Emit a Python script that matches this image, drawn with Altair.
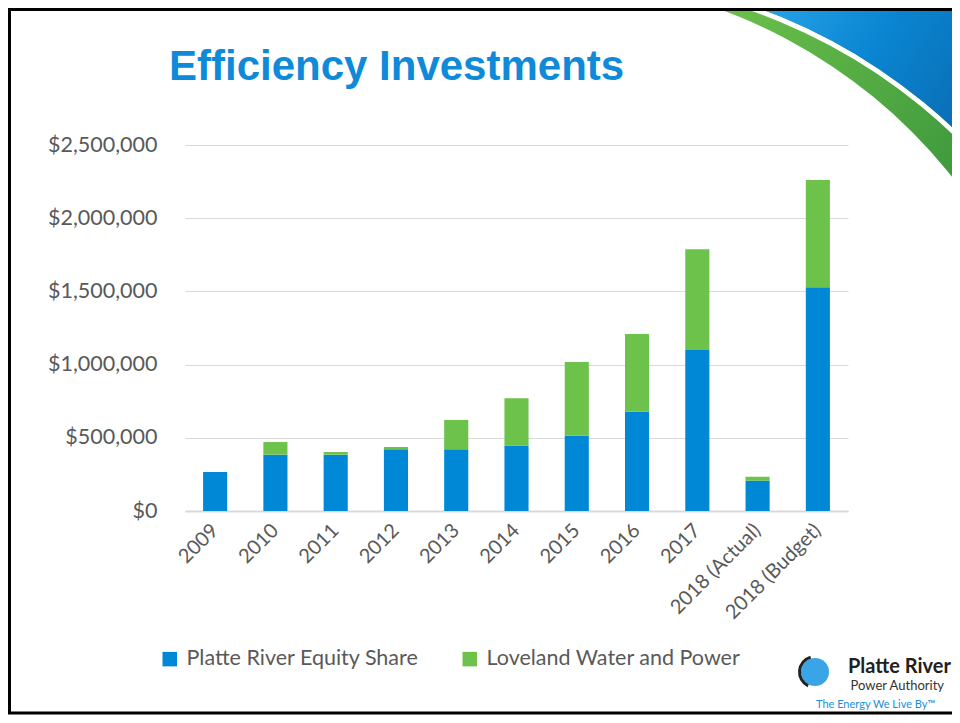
import altair as alt
import pandas as pd

categories = ["2009", "2010", "2011", "2012", "2013", "2014", "2015", "2016", "2017",
              "2018 (Actual)", "2018 (Budget)"]
platte = [266000, 385000, 385000, 421000, 421000, 446000, 514000, 678000, 1100000, 207000, 1528000]
loveland = [0, 86000, 18000, 16000, 201000, 324000, 504000, 531000, 688000, 27000, 733000]
series_names = ["Platte River Equity Share", "Loveland Water and Power"]
series_colors = ["#0088D6", "#6CC24A"]
y_ticks = [0, 500000, 1000000, 1500000, 2000000, 2500000]

rows = []
for c, p, l in zip(categories, platte, loveland):
    rows.append({"category": c, "series": series_names[0], "value": p, "ord": 0})
    rows.append({"category": c, "series": series_names[1], "value": l, "ord": 1})
df = pd.DataFrame(rows)
one = pd.DataFrame({"k": [0]})

W, H = 663, 366
PAD = {"left": 177, "top": 137, "right": 104, "bottom": 204}
LBL = "#595959"

bars = alt.Chart(df).mark_bar().encode(
    x=alt.X("category:N", sort=categories,
            scale=alt.Scale(paddingInner=0.6, paddingOuter=0.3),
            axis=alt.Axis(title=None, labelAngle=-45, labelAlign="right", labelBaseline="middle",
                          labelFont="Lato", labelFontSize=20, labelColor=LBL, ticks=False,
                          domainColor="#d9d9d9", domainWidth=2, labelPadding=16, grid=False)),
    y=alt.Y("value:Q", stack="zero", scale=alt.Scale(domain=[0, 2500000]),
            axis=alt.Axis(title=None, format="$,.0f", values=y_ticks, labelFont="Lato",
                          labelFontSize=21.5, labelColor=LBL, ticks=False, domain=False,
                          gridColor="#d9d9d9", gridWidth=1, labelPadding=28)),
    color=alt.Color("series:N", sort=series_names,
                    scale=alt.Scale(domain=series_names, range=series_colors),
                    legend=alt.Legend(orient="none", legendX=-26, legendY=503, direction="horizontal",
                                      title=None, symbolType="square", symbolSize=210,
                                      symbolStrokeWidth=0, labelFont="Lato", labelFontSize=21.5,
                                      labelColor=LBL, columnPadding=40, labelOffset=6, padding=0,
                                      labelLimit=0)),
    order=alt.Order("ord:Q", sort="ascending"),
)

# decorative swoosh (top right)
green_ring = alt.Chart(one).mark_arc(
    theta=0, theta2=1.5708, innerRadius=529, outerRadius=900,
    fill=alt.Gradient(gradient="linear", x1=0.2, y1=0.45, x2=0.46, y2=0.64,
                      stops=[alt.GradientStop(color="#6cc04a", offset=0),
                             alt.GradientStop(color="#3f9a3d", offset=1)])
).encode(x=alt.value(353), y=alt.value(361))
white_ring = alt.Chart(one).mark_arc(
    theta=0, theta2=1.5708, innerRadius=561, outerRadius=566, fill="white"
).encode(x=alt.value(380), y=alt.value(395))
blue_ring = alt.Chart(one).mark_arc(
    theta=0, theta2=1.5708, innerRadius=566, outerRadius=1000,
    fill=alt.Gradient(gradient="linear", x1=0.185, y1=0.47, x2=0.39, y2=0.6,
                      stops=[alt.GradientStop(color="#2aa6ec", offset=0),
                             alt.GradientStop(color="#0a86d2", offset=0.5),
                             alt.GradientStop(color="#0a6db5", offset=1)])
).encode(x=alt.value(380), y=alt.value(395))

border = alt.Chart(one).mark_rect(fillOpacity=0, stroke="black", strokeWidth=3).encode(
    x=alt.value(-175.5), y=alt.value(-135.5), x2=alt.value(820), y2=alt.value(568))

title = alt.Chart(one).mark_text(
    text="Efficiency Investments", font="Liberation Sans", fontWeight="bold", fontSize=42,
    color="#0E8AD8", align="left", baseline="alphabetic"
).encode(x=alt.value(-16), y=alt.value(-65))

# logo
globe = alt.Chart(one).mark_arc(theta=0, theta2=6.2832, outerRadius=14, fill="#3aa5e6").encode(
    x=alt.value(630), y=alt.value(527))
globe_edge = alt.Chart(one).mark_arc(theta=3.6, theta2=6.0, innerRadius=14, outerRadius=17,
                                     fill="#222222").encode(x=alt.value(630), y=alt.value(527))
logo1 = alt.Chart(one).mark_text(text="Platte River", font="Lato", fontWeight="bold", fontSize=20,
                                 color="#231f20", align="right").encode(
    x=alt.value(766), y=alt.value(522))
logo2 = alt.Chart(one).mark_text(text="Power Authority", font="Lato", fontSize=13,
                                 color="#333333", align="right").encode(
    x=alt.value(759), y=alt.value(541))
logo3 = alt.Chart(one).mark_text(text="The Energy We Live By\u2122", font="Lato", fontSize=11,
                                 color="#1a8fd8", align="left").encode(
    x=alt.value(631), y=alt.value(560))

chart = alt.layer(
    green_ring, white_ring, blue_ring, bars, title, globe, globe_edge, logo1, logo2, logo3, border
).properties(
    width=W, height=H, padding=PAD, autosize=alt.AutoSizeParams(type="none")
).configure_view(stroke=None)

chart.save("out.html", embed_options={"renderer": "svg", "actions": False})
